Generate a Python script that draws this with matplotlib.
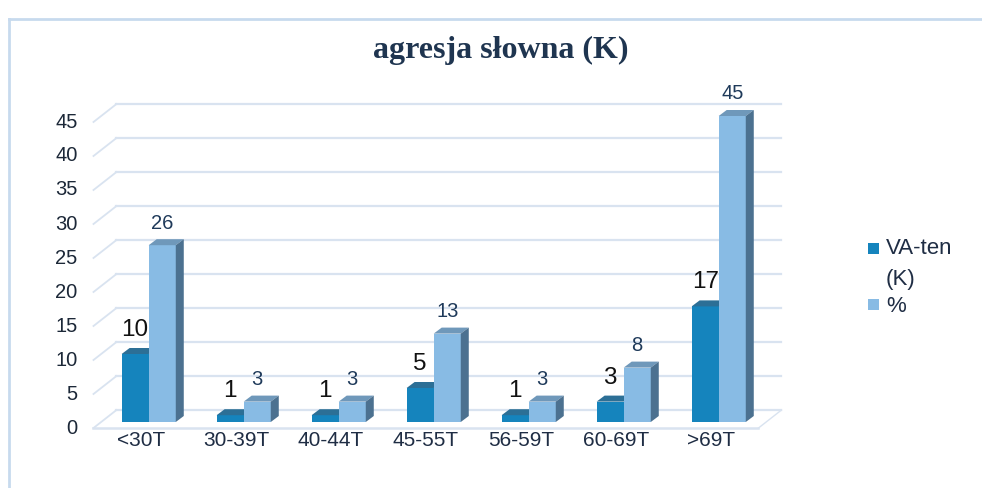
import matplotlib
matplotlib.use("Agg")
import matplotlib.pyplot as plt
from matplotlib.patches import Polygon, Rectangle
from matplotlib.lines import Line2D
from matplotlib.transforms import ScaledTranslation

categories = ["<30T", "30-39T", "40-44T", "45-55T", "56-59T", "60-69T", ">69T"]
va_ten = [10, 1, 1, 5, 1, 3, 17]
percent = [26, 3, 3, 13, 3, 8, 45]
yticks = [0, 5, 10, 15, 20, 25, 30, 35, 40, 45]
title = "agresja słowna (K)"
legend_labels = ["VA-ten", "(K)", "%"]

DPI = 100
W, H = 982, 488
fig = plt.figure(figsize=(W / DPI, H / DPI), dpi=DPI)
fig.patch.set_facecolor("white")

FONT = "Liberation Sans"

# front plane axes
x_left, x_right = 93.5, 758.5
y0_pix, y45_pix = 428, 122
ax = fig.add_axes([x_left / W, (H - y0_pix) / H, (x_right - x_left) / W, (y0_pix - y45_pix) / H])
ax.set_xlim(-0.5, 6.5)
ax.set_ylim(0, 45)
ax.axis("off")

DX, DY = 23, 18           # full depth offset (px)
BX, BY = 7.7, 6           # offset of bar front from front plane (px)
BDX, BDY = 8, 6           # bar depth (px)

inv = fig.transFigure.inverted()


def fpt(x, y, dx=0.0, dy=0.0):
    X, Y = ax.transData.transform((x, y))
    return inv.transform((X + dx, Y + dy))


grid_c = "#d9e3f0"
# back wall gridlines + left diagonals
for t in yticks:
    a = fpt(-0.5, t, DX, DY)
    b = fpt(6.5, t, DX, DY)
    ax.add_line(Line2D([a[0], b[0]], [a[1], b[1]], transform=fig.transFigure,
                       color=grid_c, lw=1.6, zorder=1, clip_on=False))
    c = fpt(-0.5, t)
    ax.add_line(Line2D([c[0], a[0]], [c[1], a[1]], transform=fig.transFigure,
                       color=grid_c, lw=1.3, zorder=1, clip_on=False))
    ax.text(c[0] - 16 / W, c[1], str(t), transform=fig.transFigure, ha="right",
            va="center", fontsize=14.5, color="#1c2838", family=FONT)

# front floor line + right diagonal
a = fpt(-0.5, 0)
b = fpt(6.5, 0)
ax.add_line(Line2D([a[0], b[0]], [a[1], b[1]], transform=fig.transFigure,
                   color=grid_c, lw=1.8, zorder=1, clip_on=False))
c = fpt(6.5, 0, DX, DY)
ax.add_line(Line2D([b[0], c[0]], [b[1], c[1]], transform=fig.transFigure,
                   color=grid_c, lw=1.0, zorder=1, clip_on=False))

bw = 0.285
off = ax.transData + ScaledTranslation(BX / DPI, BY / DPI, fig.dpi_scale_trans)

dark_front, dark_top = "#1584bd", "#2c6f96"
light_front, light_top, light_side = "#88bbe4", "#6f98ba", "#4c7190"

for i, (v1, v2) in enumerate(zip(va_ten, percent)):
    for j, (v, fc, tc) in enumerate([(v1, dark_front, dark_top), (v2, light_front, light_top)]):
        x0 = i - bw + j * bw
        bars = ax.bar([x0], [v], width=bw, align="edge", color=fc, zorder=3 + i * 0.1 + j * 0.01,
                      linewidth=0)
        bars[0].set_transform(off)
        bars[0].set_clip_on(False)
        p1 = fpt(x0, v, BX, BY)
        p2 = fpt(x0 + bw, v, BX, BY)
        p3 = fpt(x0 + bw, v, BX + BDX, BY + BDY)
        p4 = fpt(x0, v, BX + BDX, BY + BDY)
        ax.add_patch(Polygon([p1, p2, p3, p4], closed=True, transform=fig.transFigure,
                             facecolor=tc, edgecolor="none", zorder=3.005 + i * 0.1 + j * 0.01,
                             clip_on=False))
        if j == 1:
            q1 = fpt(x0 + bw, 0, BX, BY)
            q2 = fpt(x0 + bw, v, BX, BY)
            q3 = fpt(x0 + bw, v, BX + BDX, BY + BDY)
            q4 = fpt(x0 + bw, 0, BX + BDX, BY + BDY)
            ax.add_patch(Polygon([q1, q2, q3, q4], closed=True, transform=fig.transFigure,
                                 facecolor=light_side, edgecolor="none",
                                 zorder=3.006 + i * 0.1 + j * 0.01, clip_on=False))
    ax.annotate(str(v1), xy=(i - bw / 2, v1), xycoords=off, xytext=(0, 13),
                textcoords="offset points", ha="center", va="baseline",
                fontsize=17.5, color="#111111", family=FONT, zorder=6)
    ax.annotate(str(v2), xy=(i + bw / 2, v2), xycoords=off, xytext=(0, 12),
                textcoords="offset points", ha="center", va="baseline",
                fontsize=14.5, color="#1f3a5a", family=FONT, zorder=6)
    lp = fpt(i, 0)
    ax.text(lp[0], (H - 441) / H, categories[i], transform=fig.transFigure, ha="center",
            va="center", fontsize=15, color="#1f2d44", family=FONT)

# title
fig.text(501 / W, (H - 50) / H, title, ha="center", va="center", fontsize=23,
         fontweight="bold", family="Liberation Serif", color="#1f3550")

# legend (manual)
fig.patches.append(Rectangle((868 / W, (H - 254) / H), 11 / W, 11 / H,
                             transform=fig.transFigure, facecolor=dark_front, edgecolor="none"))
fig.patches.append(Rectangle((868 / W, (H - 310) / H), 11 / W, 11 / H,
                             transform=fig.transFigure, facecolor=light_front, edgecolor="none"))
for lab, yy in zip(legend_labels, [249, 280, 306]):
    fig.text(886 / W, (H - yy) / H, lab, ha="left", va="center", fontsize=16,
             color="#1f2d44", family=FONT)

# outer frame (top and left only visible)
fig.add_artist(Line2D([9 / W, 1.0], [(H - 19) / H, (H - 19) / H], transform=fig.transFigure,
                      color="#c7daee", lw=2))
fig.add_artist(Line2D([9 / W, 9 / W], [0, (H - 19) / H], transform=fig.transFigure,
                      color="#c7daee", lw=2))

fig.savefig("out.png", dpi=DPI)
